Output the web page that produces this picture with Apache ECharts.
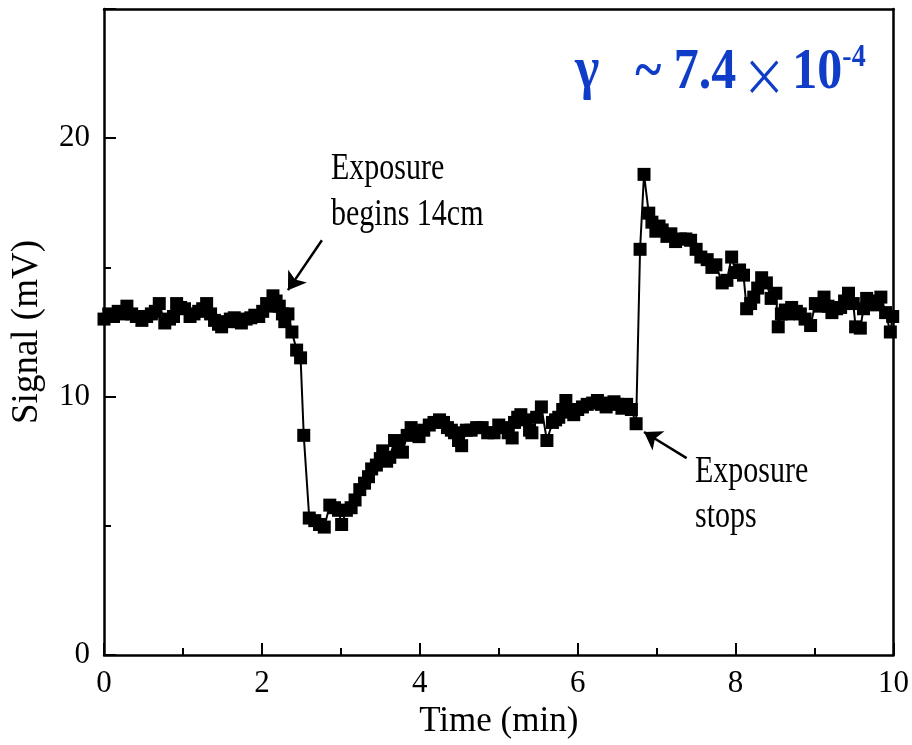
<!DOCTYPE html>
<html>
<head>
<meta charset="utf-8">
<script src="https://cdn.jsdelivr.net/npm/echarts@6/dist/echarts.min.js"></script>
<style>
html,body{margin:0;padding:0;background:#fff;}
#chart{width:912px;height:745px;}
</style>
</head>
<body>
<div id="chart"></div>
<script>
// Time (min)
var times = [
0.00,0.06,0.12,0.18,0.24,0.29,0.35,0.41,0.48,0.54,0.60,0.65,0.70,0.77,0.83,0.88,0.92,0.97,1.02,1.09,
1.14,1.20,1.25,1.30,1.35,1.40,1.45,1.49,1.55,1.60,1.65,1.70,1.74,1.80,1.86,1.91,1.96,2.01,2.06,2.10,
2.14,2.18,2.22,2.26,2.29,2.33,2.38,2.44,2.49,2.53,2.60,2.67,2.73,2.79,2.86,2.92,2.97,3.01,3.07,3.13,
3.18,3.24,3.30,3.35,3.39,3.45,3.50,3.53,3.58,3.62,3.68,3.73,3.78,3.84,3.89,3.94,3.99,4.05,4.12,4.18,
4.25,4.30,4.35,4.40,4.44,4.49,4.53,4.59,4.65,4.72,4.79,4.86,4.94,5.00,5.07,5.12,5.17,5.20,5.24,5.28,
5.34,5.39,5.42,5.48,5.54,5.61,5.68,5.72,5.76,5.81,5.85,5.90,5.95,6.00,6.06,6.12,6.19,6.25,6.30,6.36,
6.41,6.46,6.51,6.56,6.62,6.68,6.74,6.79,6.84,6.90,6.94,6.99,7.03,7.07,7.13,7.18,7.24,7.30,7.37,7.43,
7.50,7.56,7.64,7.70,7.75,7.83,7.89,7.95,8.00,8.05,8.10,8.14,8.19,8.23,8.28,8.33,8.39,8.45,8.51,8.54,
8.58,8.63,8.67,8.71,8.77,8.82,8.88,8.95,9.01,9.06,9.12,9.17,9.22,9.28,9.33,9.38,9.43,9.49,9.52,9.58,
9.62,9.66,9.70,9.75,9.80,9.84,9.90,9.96,9.99
];
// Signal (mV)
var signal = [
13.0,13.2,13.1,13.3,13.2,13.5,13.2,13.1,12.95,13.1,13.2,13.3,13.6,12.85,13.0,13.1,13.6,13.45,13.4,13.1,
13.2,13.3,13.4,13.6,13.2,12.95,12.8,12.7,12.9,13.0,13.05,12.9,12.85,13.0,13.05,13.15,13.1,13.3,13.6,13.5,
13.9,13.7,13.5,13.2,12.9,13.2,12.5,11.8,11.5,8.5,5.3,5.2,5.05,4.95,5.8,5.7,5.6,5.05,5.6,5.7,
6.0,6.4,6.65,6.9,7.2,7.35,7.6,7.9,7.5,7.65,8.3,8.1,7.85,8.5,8.8,8.6,8.45,8.7,8.9,9.0,
9.1,9.0,8.8,8.7,8.6,8.3,8.1,8.7,8.7,8.8,8.8,8.6,8.6,8.9,8.8,8.6,8.4,9.0,9.2,9.3,
9.1,8.7,8.6,9.2,9.6,8.3,9.0,9.1,9.2,9.5,9.85,9.4,9.3,9.5,9.6,9.7,9.75,9.85,9.7,9.6,
9.75,9.8,9.7,9.55,9.7,9.5,8.95,15.7,18.6,17.1,16.75,16.4,16.6,16.45,16.2,16.3,16.0,16.1,16.1,16.05,
15.7,15.4,15.3,15.0,15.1,14.4,14.5,15.4,14.8,14.9,14.7,13.4,13.6,13.85,14.2,14.6,14.4,13.8,14.0,12.7,
13.2,13.35,13.2,13.45,13.3,13.2,13.0,12.75,13.6,13.5,13.85,13.5,13.25,13.4,13.45,13.7,14.0,13.6,12.7,12.65,
13.4,13.8,13.7,13.55,13.6,13.85,13.25,12.5,13.1
];
var xTicks = [0, 2, 4, 6, 8, 10];
var yTicks = [0, 10, 20];

var seriesData = times.map(function (t, i) { return [t, signal[i]]; });

var chart = echarts.init(document.getElementById('chart'), null, {renderer: 'canvas'});
var serif = 'Liberation Serif';
var blue = '#0f3dc8';
var axisLineStyle = {color: '#000', width: 2.5};
chart.setOption({
  animation: false,
  backgroundColor: '#fff',
  grid: {left: 104, right: 17, top: 9, bottom: 90},
  xAxis: [{
    type: 'value', min: 0, max: 10, interval: 2,
    axisLine: {show: true, onZero: false, lineStyle: axisLineStyle},
    axisTick: {show: true, inside: true, length: 12, lineStyle: {color: '#000', width: 2}},
    minorTick: {show: true, splitNumber: 2, length: 7, lineStyle: {color: '#000', width: 2}},
    splitLine: {show: false},
    axisLabel: {color: '#000', fontFamily: serif, fontSize: 31, margin: 13,
      formatter: function (v) { return xTicks.indexOf(v) >= 0 ? String(v) : ''; }},
    name: 'Time (min)', nameLocation: 'middle', nameGap: 47,
    nameTextStyle: {color: '#000', fontFamily: serif, fontSize: 35}
  }, {
    type: 'value', position: 'top', min: 0, max: 10,
    axisLine: {show: true, onZero: false, lineStyle: axisLineStyle},
    axisTick: {show: false}, axisLabel: {show: false}, splitLine: {show: false}
  }],
  yAxis: [{
    type: 'value', min: 0, max: 25, interval: 10,
    axisLine: {show: true, onZero: false, lineStyle: axisLineStyle},
    axisTick: {show: true, inside: true, length: 12, lineStyle: {color: '#000', width: 2}},
    minorTick: {show: true, splitNumber: 2, length: 7, lineStyle: {color: '#000', width: 2}},
    splitLine: {show: false},
    axisLabel: {color: '#000', fontFamily: serif, fontSize: 31, margin: 14, showMaxLabel: false,
      formatter: function (v) { return yTicks.indexOf(v) >= 0 ? String(v) : ''; }},
    name: 'Signal (mV)', nameLocation: 'middle', nameGap: 58,
    nameTextStyle: {color: '#000', fontFamily: serif, fontSize: 37}
  }, {
    type: 'value', position: 'right', min: 0, max: 25,
    axisLine: {show: true, onZero: false, lineStyle: axisLineStyle},
    axisTick: {show: false}, axisLabel: {show: false}, splitLine: {show: false}
  }],
  series: [{
    type: 'line',
    data: seriesData,
    symbol: 'rect', symbolSize: 13,
    showAllSymbol: true,
    itemStyle: {color: '#000'},
    lineStyle: {color: '#000', width: 2},
    z: 3,
    markLine: {
      silent: true,
      symbol: ['none', 'arrow'],
      symbolSize: 17,
      label: {show: false},
      lineStyle: {color: '#000', width: 2.5, type: 'solid'},
      data: [
        [{coord: [2.76, 16.05]}, {coord: [2.33, 14.12]}],
        [{coord: [7.38, 7.62]}, {coord: [6.84, 8.63]}]
      ]
    }
  }],
  graphic: [
    {type: 'text', x: 331, y: 146, scaleY: 1.25, style: {text: 'Exposure\nbegins 14cm', font: '30px "Liberation Serif"', fill: '#000', lineHeight: 37, verticalAlign: 'top'}},
    {type: 'text', x: 695, y: 450, scaleY: 1.25, style: {text: 'Exposure\nstops', font: '30px "Liberation Serif"', fill: '#000', lineHeight: 36, verticalAlign: 'top'}},
    {type: 'text', x: 567, y: 42, scaleY: 1.15, style: {
      text: '{g|γ}{a|~ 7.4}{x|×}{a|10}{s|-4}',
      verticalAlign: 'top',
      rich: {
        g: {font: 'bold 52px "Liberation Serif"', fill: blue, verticalAlign: 'bottom', padding: [0, 36, 0, 8]},
        a: {font: 'bold 50px "Liberation Serif"', fill: blue, verticalAlign: 'bottom'},
        x: {font: '44px "Noto Sans CJK SC"', fill: blue, verticalAlign: 'bottom', padding: [0, 6, 0, 6]},
        s: {font: 'bold 28px "Liberation Serif"', fill: blue, verticalAlign: 'top'}
      }
    }}
  ]
});
</script>
</body>
</html>
